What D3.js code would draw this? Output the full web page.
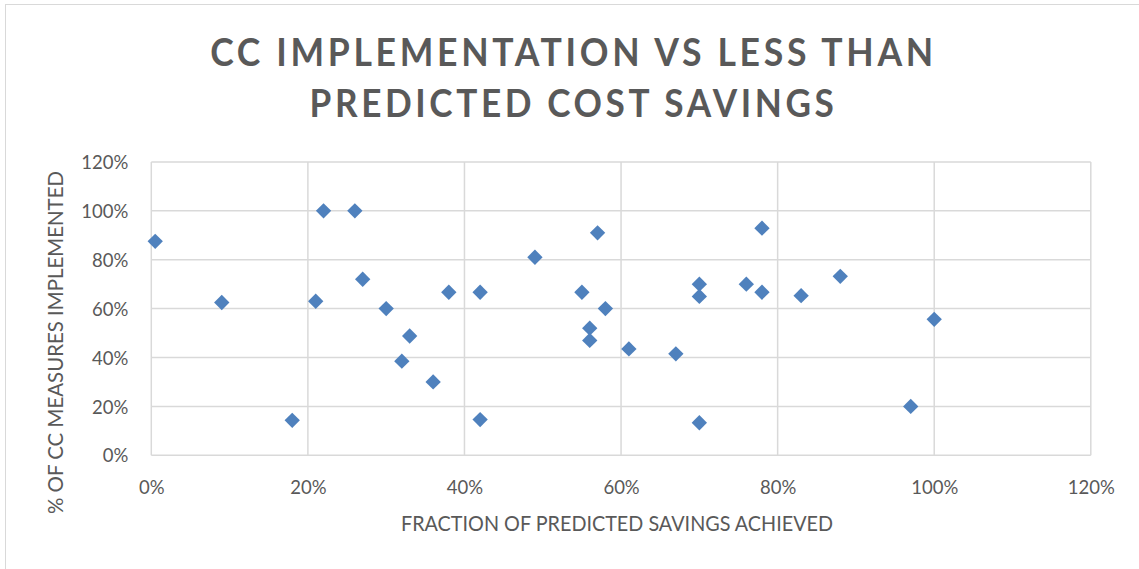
<!DOCTYPE html>
<html>
<head>
<meta charset="utf-8">
<script src="https://cdn.jsdelivr.net/npm/d3@7"></script>
<style>
  html, body { margin: 0; padding: 0; background: #fff; }
  svg { display: block; }
  text { font-family: Lato, "Open Sans", sans-serif; fill: #595959; }
</style>
</head>
<body>
<svg id="chart" width="1139" height="569"></svg>
<script>
// Fraction of predicted savings achieved (x) vs share of CC measures implemented (y)
const savingsAchieved = [0.005, 0.09, 0.18, 0.21, 0.22, 0.26, 0.27, 0.30, 0.32, 0.33, 0.36, 0.38, 0.42, 0.42,
  0.49, 0.55, 0.56, 0.56, 0.57, 0.58, 0.61, 0.67, 0.70, 0.70, 0.70, 0.76, 0.78, 0.78, 0.83, 0.88, 0.97, 1.00];
const measuresImplemented = [0.875, 0.625, 0.143, 0.63, 1.00, 1.00, 0.72, 0.60, 0.385, 0.488, 0.30, 0.667, 0.667, 0.146,
  0.81, 0.667, 0.52, 0.47, 0.91, 0.60, 0.435, 0.415, 0.70, 0.65, 0.133, 0.70, 0.667, 0.929, 0.653, 0.732, 0.20, 0.556];
const xTicks = [0, 0.2, 0.4, 0.6, 0.8, 1.0, 1.2];
const yTicks = [0, 0.2, 0.4, 0.6, 0.8, 1.0, 1.2];
const titleLines = ["CC IMPLEMENTATION VS LESS THAN", "PREDICTED COST SAVINGS"];
const xTitle = "FRACTION OF PREDICTED SAVINGS ACHIEVED";
const yTitle = "% OF CC MEASURES IMPLEMENTED";

const svg = d3.select("#chart");
const W = 1139, H = 569;
const plot = { left: 151.3, right: 1090.8, top: 161.9, bottom: 455.3 };

// outer chart frame
svg.append("rect")
  .attr("x", 5.5).attr("y", 4.5)
  .attr("width", W).attr("height", H)
  .attr("fill", "#fff").attr("stroke", "#d9d9d9").attr("stroke-width", 1);

const x = d3.scaleLinear().domain([0, 1.2]).range([plot.left, plot.right]);
const y = d3.scaleLinear().domain([0, 1.2]).range([plot.bottom, plot.top]);
const pct = d3.format(".0%");

// gridlines
const grid = svg.append("g").attr("stroke", "#d9d9d9").attr("stroke-width", 1.5);
grid.selectAll("line.v").data(xTicks).join("line")
  .attr("class", "v")
  .attr("x1", d => x(d)).attr("x2", d => x(d))
  .attr("y1", plot.top).attr("y2", plot.bottom);
grid.selectAll("line.h").data(yTicks).join("line")
  .attr("class", "h")
  .attr("x1", plot.left).attr("x2", plot.right)
  .attr("y1", d => y(d)).attr("y2", d => y(d));

// axes (labels only; gridlines serve as the axis lines)
const xAxis = svg.append("g")
  .attr("transform", `translate(0,${plot.bottom})`)
  .call(d3.axisBottom(x).tickValues(xTicks).tickFormat(pct).tickSize(0).tickPadding(26));
const yAxis = svg.append("g")
  .attr("transform", `translate(${plot.left},0)`)
  .call(d3.axisLeft(y).tickValues(yTicks).tickFormat(pct).tickSize(0).tickPadding(23));
[xAxis, yAxis].forEach(a => {
  a.select(".domain").remove();
  a.selectAll("text")
    .attr("fill", "#595959")
    .style("font-family", "Lato, 'Open Sans', sans-serif")
    .style("font-size", "18.5px");
});
yAxis.selectAll("text").attr("dy", "0.36em");

// points as diamonds
const diamond = d3.symbol().type(d3.symbolDiamond2).size(150);
const points = savingsAchieved.map((v, i) => ({ sx: v, my: measuresImplemented[i] }));
svg.append("g").selectAll("path").data(points).join("path")
  .attr("d", diamond)
  .attr("transform", d => `translate(${x(d.sx)},${y(d.my)})`)
  .attr("fill", "#4f81bd");

// title: bold, letter-spaced, narrowed horizontally to a condensed look
const titleWidths = [727, 528];
const cx = 573.5;
svg.append("g").selectAll("text").data(titleLines).join("text")
  .attr("x", 0)
  .attr("y", 0)
  .attr("text-anchor", "middle")
  .style("font-size", "39px")
  .style("font-weight", "bold")
  .style("letter-spacing", "4px")
  .text(d => d)
  .each(function (d, i) {
    const w = this.getComputedTextLength();
    const k = titleWidths[i] / w;
    d3.select(this).attr("transform", `translate(${cx},${65.5 + i * 51}) scale(${k},1)`);
  });

// axis titles
svg.append("text")
  .attr("x", 617).attr("y", 531)
  .attr("text-anchor", "middle")
  .attr("textLength", 432)
  .attr("lengthAdjust", "spacingAndGlyphs")
  .style("font-size", "21.5px")
  .text(xTitle);
svg.append("text")
  .attr("transform", `translate(63,342.5) rotate(-90)`)
  .attr("text-anchor", "middle")
  .attr("textLength", 343)
  .attr("lengthAdjust", "spacingAndGlyphs")
  .style("font-size", "21.5px")
  .text(yTitle);
</script>
</body>
</html>
